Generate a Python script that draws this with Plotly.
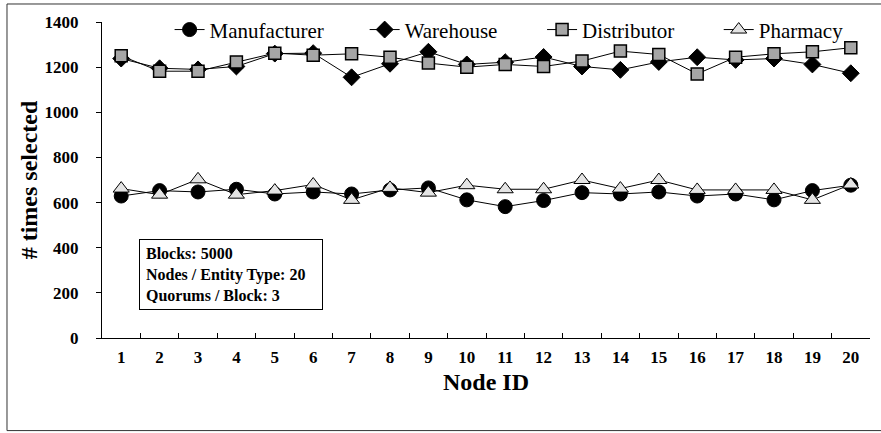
import plotly.graph_objects as go

node_ids = [str(i) for i in range(1, 21)]
manufacturer = [629, 653, 647, 659, 638, 647, 638, 656, 665, 612,
                582, 609, 644, 638, 647, 629, 638, 612, 653, 677]
warehouse = [1238, 1195, 1190, 1203, 1260, 1262, 1155, 1215, 1268, 1212,
             1222, 1245, 1203, 1188, 1223, 1244, 1232, 1238, 1212, 1173]
distributor = [1250, 1182, 1182, 1223, 1262, 1253, 1259, 1244, 1218, 1200,
               1212, 1203, 1227, 1271, 1256, 1170, 1244, 1259, 1268, 1286]
pharmacy = [662, 635, 703, 635, 653, 680, 612, 665, 644, 677,
            659, 659, 700, 662, 700, 656, 656, 656, 612, 680]
y_ticks = [0, 200, 400, 600, 800, 1000, 1200, 1400]
info_text = "Blocks: 5000<br>Nodes / Entity Type: 20<br>Quorums / Block: 3"

SERIF = "Liberation Serif"

series = [
    ("Manufacturer", manufacturer, dict(symbol="circle", size=14, color="black",
                                        line=dict(color="black", width=1)), "legend"),
    ("Warehouse", warehouse, dict(symbol="diamond", size=13, color="black",
                                  line=dict(color="black", width=1)), "legend2"),
    ("Distributor", distributor, dict(symbol="square", size=12, color="#a6a6a6",
                                      line=dict(color="black", width=1.5)), "legend3"),
    ("Pharmacy", pharmacy, dict(symbol="triangle-up", size=14, color="#e4e4e4",
                                line=dict(color="black", width=1)), "legend4"),
]

fig = go.Figure()
for name, vals, marker, leg in series:
    fig.add_trace(go.Scatter(
        x=node_ids, y=vals, name=name, mode="lines+markers",
        line=dict(color="black", width=1), marker=marker, legend=leg,
        showlegend=True,
    ))

legend_common = dict(
    orientation="h", yanchor="middle", y=0.975, xanchor="left",
    bgcolor="rgba(0,0,0,0)", borderwidth=0,
    font=dict(family=SERIF, size=21, color="black"),
)
fig.update_layout(
    width=881, height=433,
    margin=dict(l=102, r=11, t=22, b=95, autoexpand=False),
    paper_bgcolor="white", plot_bgcolor="white",
    showlegend=True,
    font=dict(family=SERIF, color="black"),
    legend=dict(x=0.088, **legend_common),
    legend2=dict(x=0.342, **legend_common),
    legend3=dict(x=0.573, **legend_common),
    legend4=dict(x=0.803, **legend_common),
    xaxis=dict(
        type="category", range=[-0.5, 19.5], tickson="boundaries",
        ticks="inside", ticklen=5,
        tickcolor="black", showline=True, linecolor="black", linewidth=1,
        showgrid=False, zeroline=False, automargin=False,
        tickfont=dict(family=SERIF, size=17, color="black", weight="bold"),
        ticklabelstandoff=4,
        title=dict(text="Node ID", standoff=6,
                   font=dict(family=SERIF, size=24, color="black", weight="bold")),
    ),
    yaxis=dict(
        range=[0, 1400], tickvals=y_ticks, ticks="outside", ticklen=5,
        tickcolor="black", showline=True, linecolor="black", linewidth=1,
        showgrid=False, zeroline=False, automargin=False,
        tickfont=dict(family=SERIF, size=17, color="black", weight="bold"),
        ticklabelstandoff=14,
        title=dict(text="# times selected", standoff=0,
                   font=dict(family=SERIF, size=24, color="black", weight="bold")),
    ),
)

fig.add_annotation(
    xref="paper", yref="y", x=0.048, y=437, xanchor="left", yanchor="top",
    text=info_text, showarrow=False, align="left", width=170, height=57,
    valign="middle",
    font=dict(family=SERIF, size=16, color="black", weight="bold"),
    bordercolor="black", borderwidth=1, borderpad=6, bgcolor="white",
)

fig.add_shape(type="rect", xref="paper", yref="paper",
              x0=-0.1237, x1=1.3, y0=-0.293, y1=1.057,
              line=dict(color="#333333", width=1), layer="below")

fig.write_html("out.html", config={"displayModeBar": False},
               post_script="document.body.style.margin='0';")
